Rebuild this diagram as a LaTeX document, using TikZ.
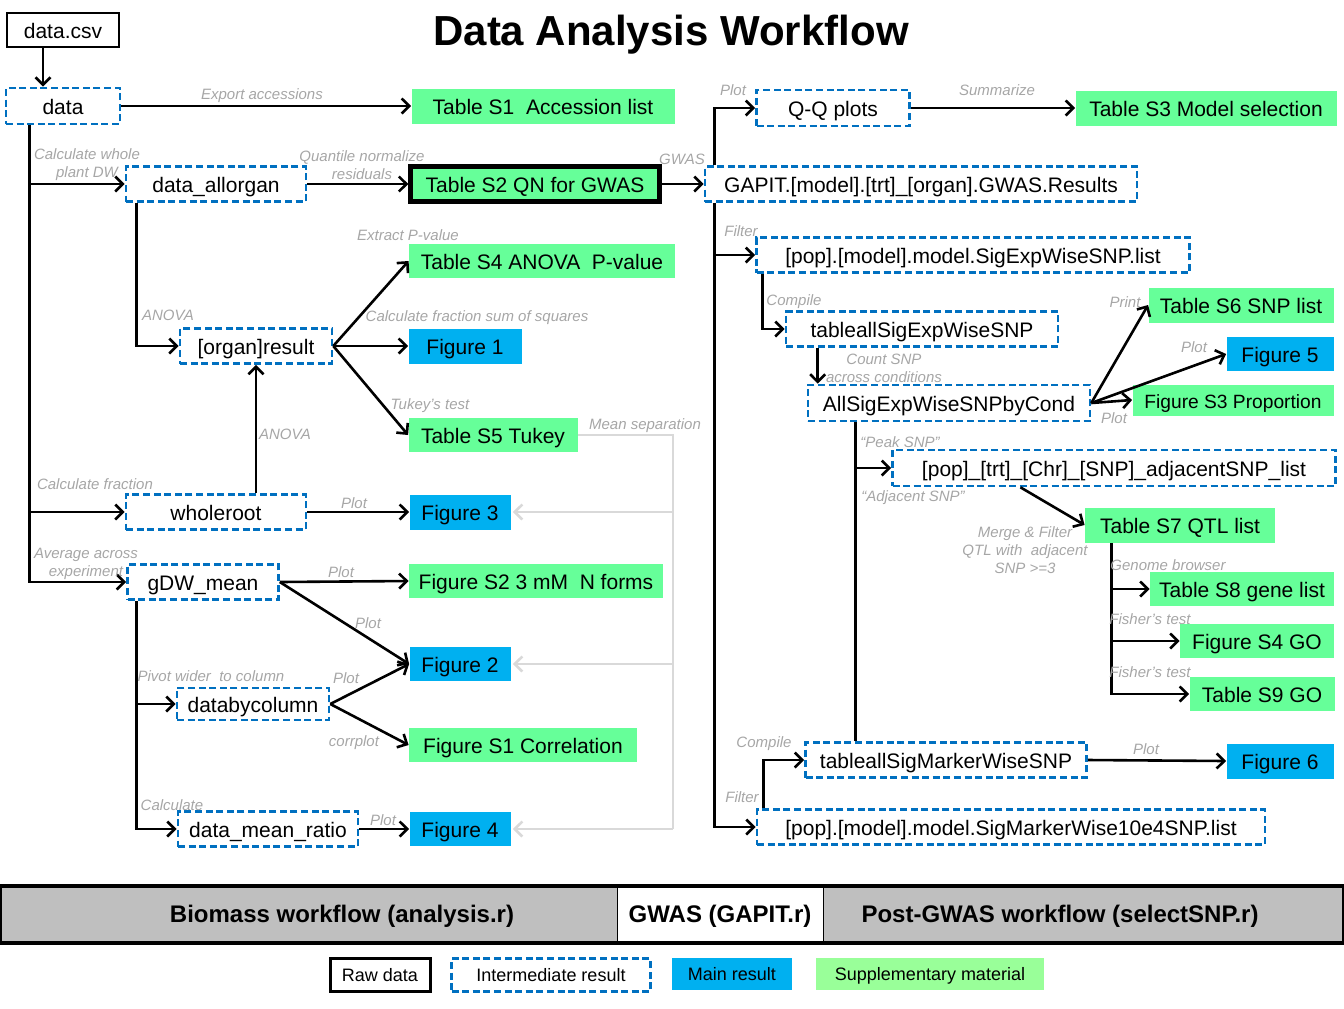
\documentclass[tikz,border=0pt]{standalone}
\usepackage{fontspec}
\setmainfont{Liberation Sans}
\usetikzlibrary{calc}
\usetikzlibrary{positioning}
\usetikzlibrary{arrows.meta}
\definecolor{suppgreen}{HTML}{66FF99}
\definecolor{mainblue}{HTML}{00B0F0}
\definecolor{interblue}{HTML}{0070C0}
\definecolor{legendgreen}{HTML}{99FF99}
\definecolor{notegray}{HTML}{A6A6A6}
\definecolor{sepgray}{HTML}{D9D9D9}
\definecolor{bandgray}{HTML}{BFBFBF}
\tikzset{
    % Open arrow heads, like the slide ones
    >={Straight Barb[length=3.8pt,width=7.5pt]},
%
    % Box size in slide pixels (1px is half a point)
    wh/.style 2 args={minimum width=#1*0.5pt, minimum height=#2*0.5pt},
%
    % Any box of the workflow
    box/.style={inner sep=0, font=\fontsize{10.5}{12}\selectfont,
        text height=9.2pt, text depth=1pt, wh={100}{35}},
    % Raw data file
    raw box/.style={box, draw, line width=1pt, fill=white},
    % Intermediate result, dashed blue frame
    inter box/.style={box, draw=interblue, line width=1.3pt,
        dash pattern=on 3.5pt off 1.8pt, fill=white},
    % Main result and supplementary material
    main box/.style={box, fill=mainblue},
    supp box/.style={box, fill=suppgreen},
    % Grey italic remarks next to the arrows
    note/.style={font=\fontsize{7.5}{9}\selectfont\itshape, text=notegray,
        align=center, inner sep=0, yshift=-1pt},
    flow/.style={->, line width=1.3pt},
    sep/.style={line width=1.3pt, draw=sepgray},
    band text/.style={font=\fontsize{12}{14}\selectfont\bfseries, yshift=-1.2pt},
    legend/.style={font=\fontsize{9}{11}\selectfont, text height=7.8pt, text depth=1pt}}

\begin{document}
\begin{tikzpicture}[x=0.5pt, y=-0.5pt]
\useasboundingbox (0,0) rectangle (1344,1008);

\node [font=\fontsize{21}{25}\selectfont\bfseries]
    (title) at (671,35) {Data Analysis Workflow};

% Biomass part
\node [raw box, wh={112}{34}] (datacsv) at (63,30) {data.csv};
\node [inter box, wh={114}{36}] (data) at (63,106) {data};
\node [supp box, wh={263}{35}] (tabS1) at (543,106) {Table S1 \ Accession list};
\node [inter box, wh={180}{35}] (allorgan) at (216,184) {data\_allorgan};
\node [supp box, draw, line width=2.2pt, wh={249}{35}]
    (tabS2) at (535,184) {Table S2 QN for GWAS};
\node [supp box, wh={266}{34}] (tabS4) at (542,261) {Table S4 ANOVA \ P-value};
\node [inter box, wh={152}{35}] (organres) at (256,346) {[organ]result};
\node [main box, wh={113}{35}] (fig1) at (465,346) {Figure 1};
\node [supp box, wh={169}{34}] (tabS5) at (493,435) {Table S5 Tukey};
\node [inter box, wh={180}{35}] (wholeroot) at (216,512) {wholeroot};
\node [main box, wh={101}{35}] (fig3) at (460,512) {Figure 3};
\node [inter box, wh={151}{35}] (gdw) at (203,582) {gDW\_mean};
\node [supp box, wh={254}{34}] (figS2) at (536,581) {Figure S2 3 mM \ N forms};
\node [main box, wh={101}{34}] (fig2) at (460,664) {Figure 2};
\node [inter box, wh={152}{32}] (bycol) at (253,704) {databycolumn};
\node [supp box, wh={228}{34}] (figS1) at (523,745) {Figure S1 Correlation};
\node [inter box, wh={180}{35}] (ratio) at (268,829) {data\_mean\_ratio};
\node [main box, wh={101}{34}] (fig4) at (460,829) {Figure 4};

% GWAS and post-GWAS part
\node [inter box, wh={432}{35}] (gapit) at (921,184) {GAPIT.[model].[trt]\_[organ].GWAS.Results};
\node [inter box, wh={153}{36}] (qq) at (833,108) {Q-Q plots};
\node [supp box, wh={261}{35}] (tabS3) at (1206,108) {Table S3 Model selection};
\node [inter box, wh={433}{35}] (sigexp) at (973,255) {[pop].[model].model.SigExpWiseSNP.list};
\node [inter box, wh={272}{35}] (tabexp) at (922,329) {tableallSigExpWiseSNP};
\node [supp box, wh={185}{35}] (tabS6) at (1241,305) {Table S6 SNP list};
\node [main box, wh={107}{34}] (fig5) at (1280,354) {Figure 5};
\node [inter box, wh={282}{36}] (bycond) at (949,403) {AllSigExpWiseSNPbyCond};
\node [supp box, wh={201}{31}, font=\fontsize{9.6}{11}\selectfont]
    (figS3) at (1233,400) {Figure S3 Proportion};
\node [inter box, wh={443}{36}] (adjsnp) at (1114,468) {[pop]\_[trt]\_[Chr]\_[SNP]\_adjacentSNP\_list};
\node [supp box, wh={190}{35}] (tabS7) at (1180,525) {Table S7 QTL list};
\node [supp box, wh={184}{34}] (tabS8) at (1242,589) {Table S8 gene list};
\node [supp box, wh={154}{34}] (figS4) at (1257,641) {Figure S4 GO};
\node [supp box, wh={145}{34}] (tabS9) at (1262,694) {Table S9 GO};
\node [inter box, wh={281}{35}] (tabmarker) at (946,760) {tableallSigMarkerWiseSNP};
\node [main box, wh={107}{35}] (fig6) at (1280,761) {Figure 6};
\node [inter box, wh={508}{35}] (sigmarker) at (1011,827) {[pop].[model].model.SigMarkerWise10e4SNP.list};

% Connectors of the biomass part
\coordinate (csvout) at ([xshift=18.5pt]datacsv.south west);
\draw [flow] (csvout) -- (csvout |- data.north);
\draw [flow] (data.east) -- (tabS1.west);
\coordinate (trunk) at ([xshift=12.5pt]data.south west);
\draw [flow] (trunk) |- (gdw.west);
\draw [flow] (trunk |- allorgan.west) -- (allorgan.west);
\draw [flow] (trunk |- wholeroot.west) -- (wholeroot.west);
\draw [flow] (allorgan.east) -- (tabS2.west);
\draw [flow] ([xshift=6pt]allorgan.south west) |- (organres.west);
\draw [flow] (organres.east) -- (tabS4.west);
\draw [flow] (organres.east) -- (fig1.west);
\draw [flow] (organres.east) -- (tabS5.west);
\draw [flow] (organres.south |- wholeroot.north) -- (organres.south);
\draw [flow] (wholeroot.east) -- (fig3.west);
\draw [flow] (gdw.east) -- (figS2.west);
\draw [flow] (gdw.east) -- (fig2.west);
\coordinate (gdwout) at ([xshift=5pt]gdw.south west);
\draw [flow] (gdwout) |- (ratio.west);
\draw [flow] (gdwout |- bycol.west) -- (bycol.west);
\draw [flow] (bycol.east) -- (fig2.west);
\draw [flow] (bycol.east) -- (figS1.west);
\draw [flow] (ratio.east) -- (fig4.west);

% Mean separation feeds back into the figures
\coordinate (sepx) at ($(tabS5.east)+(95,0)$);
\draw [sep] (tabS5.east) -- (sepx) -- (sepx |- fig4.east);
\draw [sep, ->] (sepx |- fig3.east) -- ([xshift=1pt]fig3.east);
\draw [sep, ->] (sepx |- fig2.east) -- ([xshift=1pt]fig2.east);
\draw [sep, ->] (sepx |- fig4.east) -- ([xshift=1pt]fig4.east);

% Connectors of the GWAS part
\draw [flow] (tabS2.east) -- (gapit.west);
\coordinate (gtop) at ([xshift=5.5pt]gapit.north west);
\coordinate (gbot) at ([xshift=5.5pt]gapit.south west);
\draw [flow] (gtop) |- (qq.west);
\draw [flow] (qq.east) -- (tabS3.west);
\draw [flow] (gbot) |- (sigmarker.west);
\draw [flow] (gbot |- sigexp.west) -- (sigexp.west);
\draw [flow] ([xshift=3.5pt]sigexp.south west) |- (tabexp.west);
\coordinate (expout) at ([xshift=16.5pt]tabexp.south west);
\draw [flow] (expout) -- (expout |- bycond.north);
\draw [flow] (bycond.east) -- (tabS6.west);
\draw [flow] (bycond.east) -- (fig5.west);
\draw [flow] (bycond.east) -- (figS3.west);
\coordinate (condout) at ([xshift=24.5pt]bycond.south west);
\draw [line width=1.3pt] (condout) -- (condout |- tabmarker.north);
\draw [flow] (condout |- adjsnp.west) -- (adjsnp.west);
\draw [flow] ($(adjsnp.south west)!0.29!(adjsnp.south east)$) -- (tabS7.west);
\coordinate (qtlout) at ([xshift=13.5pt]tabS7.south west);
\draw [flow] (qtlout) |- (tabS9.west);
\draw [flow] (qtlout |- tabS8.west) -- (tabS8.west);
\draw [flow] (qtlout |- figS4.west) -- (figS4.west);
\draw [flow] ([xshift=4pt]sigmarker.north west) |- (tabmarker.west);
\draw [flow] (tabmarker.east) -- (fig6.west);

% Remarks
\node [note] (n-export) at (262,94) {Export accessions};
\node [note] (n-whole) at (87,163) {Calculate whole\\plant DW};
\node [note] (n-qn) at (362,163) {Quantile normalize\\residuals};
\node [note] (n-pval) at (408,233) {Extract P-value};
\node [note] (n-gwas) at (682,157) {GWAS};
\node [note] (n-qqplot) at (733,88) {Plot};
\node [note] (n-summ) at (997,88) {Summarize};
\node [note] (n-filter1) at (741,229) {Filter};
\node [note] (n-anova1) at (168,313) {ANOVA};
\node [note] (n-sumsq) at (477,316) {Calculate fraction sum of squares};
\node [note] (n-compile1) at (794,300) {Compile};
\node [note] (n-print) at (1125,300) {Print};
\node [note] (n-plot5) at (1194,345) {Plot};
\node [note] (n-count) at (884,366) {Count SNP\\across conditions};
\node [note] (n-plotS3) at (1114,416) {Plot};
\node [note] (n-tukey) at (430,404) {Tukey's test};
\node [note] (n-meansep) at (645,424) {Mean separation};
\node [note] (n-anova2) at (285,432) {ANOVA};
\node [note] (n-peak) at (900,440) {“Peak SNP”};
\node [note] (n-fraction) at (95,482) {Calculate fraction};
\node [note] (n-plot3) at (354,501) {Plot};
\node [note] (n-adjacent) at (913,496) {“Adjacent SNP”};
\node [note] (n-merge) at (1025,548) {Merge \& Filter\\QTL with \ adjacent\\SNP >=3};
\node [note] (n-genome) at (1168,563) {Genome browser};
\node [note] (n-average) at (86,562) {Average across\\experiment};
\node [note] (n-plotS2) at (341,570) {Plot};
\node [note] (n-fisher1) at (1150,617) {Fisher's test};
\node [note] (n-plot2a) at (368,621) {Plot};
\node [note] (n-fisher2) at (1150,670) {Fisher's test};
\node [note] (n-pivot) at (211,674) {Pivot wider \ to column};
\node [note] (n-plot2b) at (346,676) {Plot};
\node [note] (n-corr) at (354,741) {corrplot};
\node [note] (n-compile2) at (764,742) {Compile};
\node [note] (n-plot6) at (1146,747) {Plot};
\node [note] (n-filter2) at (742,795) {Filter};
\node [note] (n-calc) at (172,803) {Calculate};
\node [note] (n-plot4) at (383,818) {Plot};

% Band naming the three scripts
\node [fill=bandgray, wh={617}{57}] (bandbio) at (308.5,914.5) {};
\node [fill=white, wh={206}{57}] (bandgwas) at (720,914.5) {};
\node [fill=bandgray, wh={521}{57}] (bandpost) at (1083.5,914.5) {};
\draw [line width=0.7pt] (bandbio.north east) -- (bandbio.south east);
\draw [line width=0.7pt] (bandgwas.north east) -- (bandgwas.south east);
\draw [line width=2pt] (bandbio.north west) rectangle (bandpost.south east);
\node [band text] (t-bio) at (342,914) {Biomass workflow (analysis.r)};
\node [band text] (t-gwas) at (720,914) {GWAS (GAPIT.r)};
\node [band text] (t-post) at (1060,914) {Post-GWAS workflow (selectSNP.r)};

% Legend
\node [raw box, legend, line width=1.5pt, wh={100}{33}] (lg-raw) at (380,975) {Raw data};
\node [inter box, legend, wh={199}{33}] (lg-inter) at (551,975) {Intermediate result};
\node [main box, legend, wh={120}{32}] (lg-main) at (732,974) {Main result};
\node [box, legend, fill=legendgreen, wh={228}{32}] (lg-supp) at (930,974) {Supplementary material};

\end{tikzpicture}
\end{document}
